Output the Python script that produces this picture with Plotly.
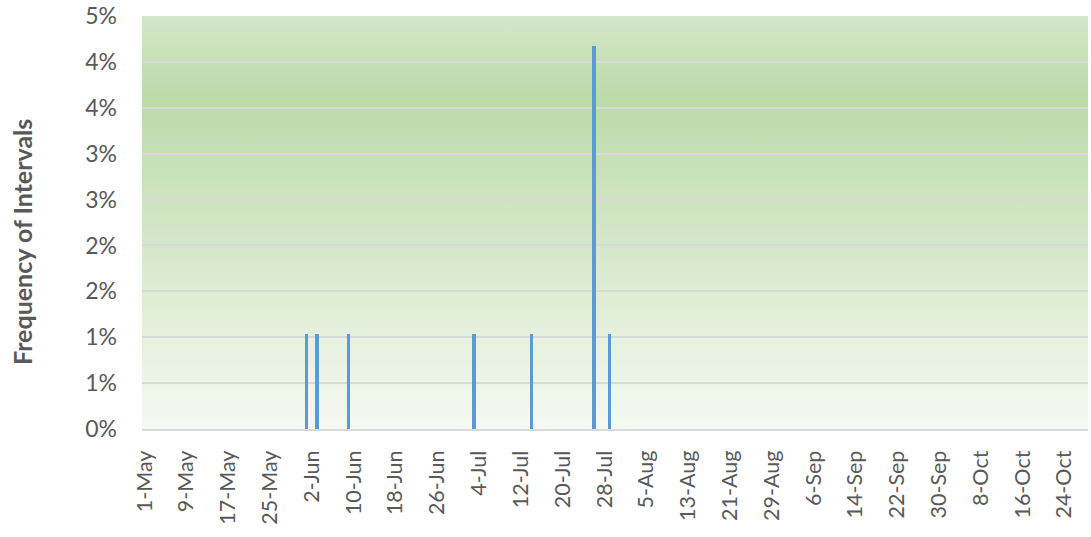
import base64
import plotly.graph_objects as go

# ---- data ----
bar_dates = ["2019-06-01", "2019-06-03", "2019-06-09", "2019-07-03",
             "2019-07-14", "2019-07-26", "2019-07-29"]
bar_values = [0.0104, 0.0104, 0.0104, 0.0104, 0.0104, 0.0417, 0.0104]

x_tick_dates = ["2019-05-01", "2019-05-09", "2019-05-17", "2019-05-25", "2019-06-02",
                "2019-06-10", "2019-06-18", "2019-06-26", "2019-07-04", "2019-07-12",
                "2019-07-20", "2019-07-28", "2019-08-05", "2019-08-13", "2019-08-21",
                "2019-08-29", "2019-09-06", "2019-09-14", "2019-09-22", "2019-09-30",
                "2019-10-08", "2019-10-16", "2019-10-24"]
x_tick_labels = ["1-May", "9-May", "17-May", "25-May", "2-Jun", "10-Jun", "18-Jun",
                 "26-Jun", "4-Jul", "12-Jul", "20-Jul", "28-Jul", "5-Aug", "13-Aug",
                 "21-Aug", "29-Aug", "6-Sep", "14-Sep", "22-Sep", "30-Sep", "8-Oct",
                 "16-Oct", "24-Oct"]
y_tick_values = [0, 0.005, 0.01, 0.015, 0.02, 0.025, 0.03, 0.035, 0.04, 0.045]
y_tick_labels = ["0%", "1%", "1%", "2%", "2%", "3%", "3%", "4%", "4%", "5%"]
y_title = "Frequency of Intervals"

# ---- figure ----
fig = go.Figure()
fig.add_trace(go.Bar(
    x=bar_dates, y=bar_values,
    width=0.65 * 86400000,
    marker=dict(color="#5b9bd5", line=dict(width=0)),
))

# smooth vertical gradient background (SVG image behind the plot area)
svg = ('<svg xmlns="http://www.w3.org/2000/svg" width="100" height="100" '
       'preserveAspectRatio="none" viewBox="0 0 100 100">'
       '<defs><linearGradient id="g" x1="0" y1="0" x2="0" y2="1">'
       '<stop offset="0" stop-color="#d4e7c8"/>'
       '<stop offset="0.2" stop-color="#bcdaa8"/>'
       '<stop offset="1" stop-color="#f5f9f2"/>'
       '</linearGradient></defs>'
       '<rect width="100" height="100" fill="url(#g)"/></svg>')
bg_src = "data:image/svg+xml;base64," + base64.b64encode(svg.encode()).decode()

L, R, T, B = 142, 3, 16, 108
W, H = 1091, 537
plot_w = W - L - R
plot_h = H - T - B

font_family = "Lato, 'Open Sans', 'Liberation Sans', sans-serif"
fig.update_layout(
    width=W, height=H,
    margin=dict(l=L, r=R, t=T, b=B, autoexpand=False),
    paper_bgcolor="white", plot_bgcolor="rgba(0,0,0,0)",
    showlegend=False, bargap=0,
    images=[dict(source=bg_src, xref="x domain", yref="y domain",
                 x=0, y=1, sizex=1, sizey=1, xanchor="left", yanchor="top",
                 sizing="stretch", layer="below")],
    font=dict(family=font_family, color="#595959", size=21),
    xaxis=dict(
        type="date", automargin=False,
        range=["2019-04-30 12:00", "2019-10-28 12:00"],
        tickvals=x_tick_dates, ticktext=x_tick_labels,
        tickangle=-90, tickfont=dict(size=21.5, color="#595959"),
        showgrid=False, zeroline=False,
        showline=True, linecolor="#d9d9d9", linewidth=2,
        ticks="", ticklabelstandoff=11, ticklabeloverflow="allow",
    ),
    yaxis=dict(
        automargin=False,
        range=[0, 0.045],
        tickvals=y_tick_values, ticktext=y_tick_labels,
        tickfont=dict(size=23, color="#595959"),
        showgrid=True, gridcolor="#d9d9d9", gridwidth=2,
        zeroline=False, showline=False, ticks="",
        ticklabelstandoff=24, ticklabeloverflow="allow",
    ),
    annotations=[dict(
        text="<b>" + y_title + "</b>", textangle=-90,
        xref="paper", yref="paper", x=(22 - L) / plot_w, y=(H - B - 242) / plot_h,
        xanchor="center", yanchor="middle", showarrow=False,
        font=dict(size=25, color="#595959", family=font_family),
    )],
)

fig.write_html("out.html", config={"displayModeBar": False},
               post_script="document.body.style.margin='0';")
